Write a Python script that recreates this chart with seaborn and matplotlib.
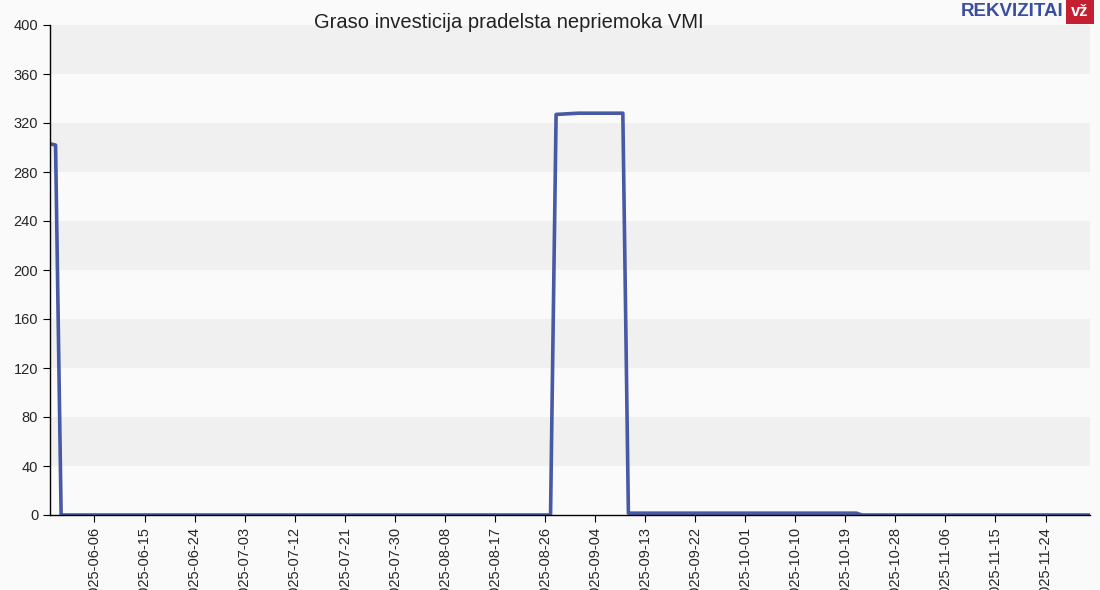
import pandas as pd
import matplotlib.pyplot as plt
import matplotlib.dates as mdates
import seaborn as sns

# breakpoints of the daily series (value holds between neighbouring points)
dates = ['2025-05-29', '2025-05-30', '2025-05-31', '2025-08-27', '2025-08-28',
         '2025-09-01', '2025-09-09', '2025-09-10', '2025-10-21', '2025-10-22', '2025-12-02']
values = [303, 302, 0, 0, 327, 328, 328, 1.5, 1.5, 0, 0]
tick_dates = pd.date_range('2025-06-06', '2025-11-24', freq='9D')
y_ticks = list(range(0, 401, 40))

df = pd.DataFrame({'date': pd.to_datetime(dates), 'value': values})

sns.set_style('white')
plt.rcParams['font.family'] = ['Liberation Sans', 'DejaVu Sans']

fig = plt.figure(figsize=(11, 5.9), dpi=100, facecolor='#fafafa')
ax = fig.add_axes([50 / 1100, 1 - 515 / 590, 1040 / 1100, 490 / 590])
ax.set_facecolor('#fafafa')

# alternating horizontal bands
for lo in range(40, 400, 80):
    ax.axhspan(lo, lo + 40, color='#f0f0f0', zorder=0, lw=0)

sns.lineplot(data=df, x='date', y='value', ax=ax, color='#34479c', linewidth=2.6, alpha=0.9)

ax.set_xlim(pd.Timestamp('2025-05-29'), pd.Timestamp('2025-12-02'))
ax.set_ylim(0, 400)
ax.set_yticks(y_ticks)
ax.set_xticks(tick_dates)
ax.xaxis.set_major_formatter(mdates.DateFormatter('%Y-%m-%d'))
ax.tick_params(axis='x', rotation=90, labelsize=10.5, length=5, color='black', direction='out', bottom=True)
ax.tick_params(axis='y', labelsize=10.5, length=5, color='black', direction='out', left=True)
ax.set_xlabel('')
ax.set_ylabel('')
for s in ['top', 'right']:
    ax.spines[s].set_visible(False)
for s in ['left', 'bottom']:
    ax.spines[s].set_color('black')
    ax.spines[s].set_linewidth(1)

fig.text(509 / 1100, 1 - 23 / 590, 'Graso investicija pradelsta nepriemoka VMI',
         ha='center', va='center', fontsize=14.5, color='#222222')

# logo
fig.text(1064 / 1100, 1 - 11 / 590, 'REKVIZITAI', ha='right', va='center', fontsize=13.5,
         fontweight='bold', color='#3a4ea0')
fig.text(1080 / 1100, 1 - 11 / 590, 'vž', ha='center', va='center', fontsize=12,
         fontweight='bold', color='white',
         bbox=dict(boxstyle='square,pad=0.3', fc='#c4202f', ec='none'))

fig.savefig('out.png', dpi=100, facecolor=fig.get_facecolor())
